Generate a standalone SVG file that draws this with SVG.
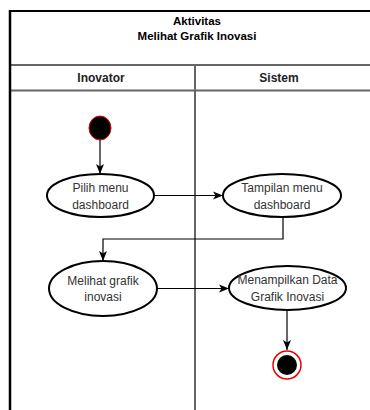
<svg xmlns="http://www.w3.org/2000/svg" width="370" height="410" viewBox="0 0 370 410">
  <defs>
    <style>
      .title { font-family: "Liberation Sans", Arial, sans-serif; font-size: 11.5px; font-weight: bold; fill: #000; text-anchor: middle; }
      .lane { font-family: "Liberation Sans", Arial, sans-serif; font-size: 12px; font-weight: bold; fill: #222; text-anchor: middle; }
      .label { font-family: "Liberation Sans", Arial, sans-serif; font-size: 12px; fill: #333; text-anchor: middle; }
      .act { fill: #fff; stroke: #000; stroke-width: 2; }
      .edge { fill: none; stroke: #000; stroke-width: 1.2; marker-end: url(#arrow); }
      .grid { stroke: #666; stroke-width: 2; fill: none; }
    </style>
    <marker id="arrow" viewBox="0 0 10 10" refX="10" refY="5" markerWidth="10" markerHeight="10" markerUnits="userSpaceOnUse" orient="auto">
      <path d="M0,1 L10,5 L0,9 L2.5,5 Z" fill="#000"/>
    </marker>
  </defs>
  <rect width="370" height="410" fill="#fff"/>

  <g id="pool">
    <line class="grid" x1="10" y1="65" x2="370" y2="65"/>
    <line class="grid" x1="10" y1="90.5" x2="370" y2="90.5"/>
    <line class="grid" x1="195" y1="65" x2="195" y2="410"/>
    <line x1="9" y1="11" x2="370" y2="11" stroke="#000" stroke-width="2"/>
    <line x1="10" y1="10" x2="10" y2="410" stroke="#000" stroke-width="2.5"/>
    <text class="title" x="197" y="25">Aktivitas</text>
    <text class="title" x="197" y="40">Melihat Grafik Inovasi</text>
  </g>

  <g id="lane-inovator">
    <text class="lane" x="101" y="82">Inovator</text>
  </g>
  <g id="lane-sistem">
    <text class="lane" x="279" y="82">Sistem</text>
  </g>

  <g id="edges">
    <line class="edge" x1="100" y1="140" x2="100" y2="174"/>
    <line class="edge" x1="154" y1="195.5" x2="223" y2="195.5"/>
    <polyline class="edge" points="283,217 283,239 103,239 103,261"/>
    <line class="edge" x1="157" y1="288.5" x2="229" y2="288.5"/>
    <line class="edge" x1="287" y1="310" x2="287" y2="350"/>
  </g>

  <g id="start">
    <ellipse cx="100" cy="128" rx="11" ry="12" fill="#000" stroke="#e00" stroke-width="1"/>
  </g>

  <g id="pilih-menu">
    <ellipse class="act" cx="100.5" cy="195.5" rx="53.5" ry="21.5"/>
    <text class="label" x="100.5" y="192">Pilih menu</text>
    <text class="label" x="100.5" y="209">dashboard</text>
  </g>

  <g id="tampilan-menu">
    <ellipse class="act" cx="282" cy="195.5" rx="59" ry="21.5"/>
    <text class="label" x="282" y="192">Tampilan menu</text>
    <text class="label" x="282" y="209">dashboard</text>
  </g>

  <g id="melihat-grafik">
    <ellipse class="act" cx="103" cy="288.5" rx="54" ry="27.5"/>
    <text class="label" x="103" y="284.5">Melihat grafik</text>
    <text class="label" x="103" y="301">inovasi</text>
  </g>

  <g id="menampilkan-data">
    <ellipse class="act" cx="287.5" cy="288" rx="58.5" ry="22"/>
    <text class="label" x="287.5" y="284">Menampilkan Data</text>
    <text class="label" x="287.5" y="300.5">Grafik Inovasi</text>
  </g>

  <g id="end">
    <circle cx="287" cy="365" r="14" fill="#fff" stroke="#e00" stroke-width="1.5"/>
    <circle cx="287" cy="365" r="10" fill="#000"/>
  </g>
</svg>
